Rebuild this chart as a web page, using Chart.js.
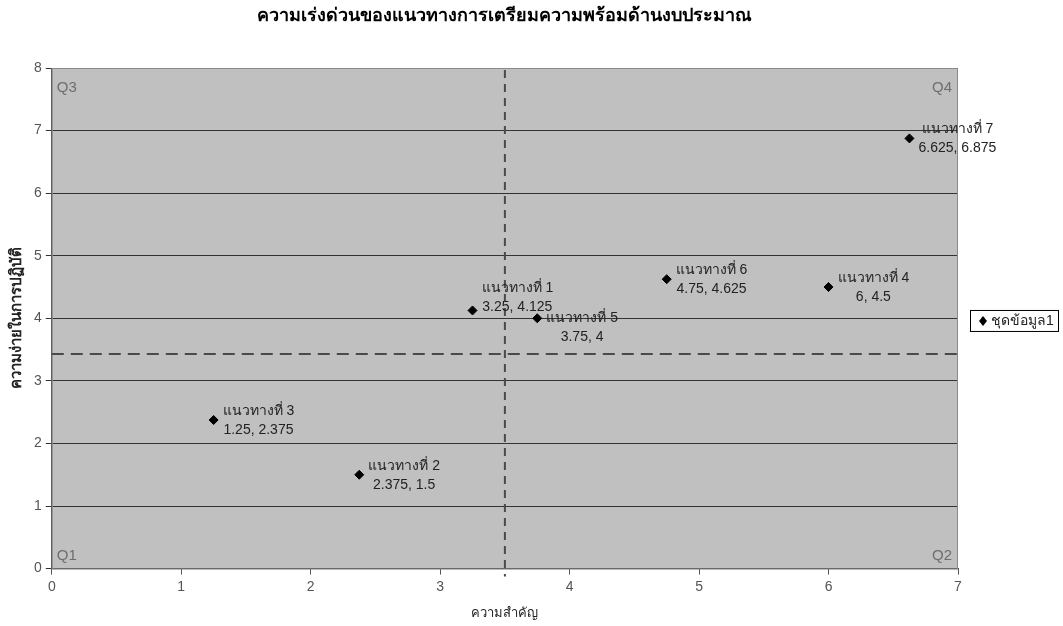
<!DOCTYPE html>
<html>
<head>
<meta charset="utf-8">
<script src="https://cdn.jsdelivr.net/npm/chart.js@4"></script>
<style>
  html, body { margin: 0; padding: 0; background: #fff; }
  #wrap { width: 1063px; height: 626px; }
</style>
</head>
<body>
<div id="wrap"><canvas id="chart"></canvas></div>
<script>
const chartTitle = 'ความเร่งด่วนของแนวทางการเตรียมความพร้อมด้านงบประมาณ';
const xTitle = 'ความสำคัญ';
const yTitle = 'ความง่ายในการปฏิบัติ';
const seriesName = 'ชุดข้อมูล1';

const pointNames = ['แนวทางที่ 1', 'แนวทางที่ 2', 'แนวทางที่ 3', 'แนวทางที่ 4', 'แนวทางที่ 5', 'แนวทางที่ 6', 'แนวทางที่ 7'];
const xValues = [3.25, 2.375, 1.25, 6, 3.75, 4.75, 6.625];
const yValues = [4.125, 1.5, 2.375, 4.5, 4, 4.625, 6.875];
const xLabels = ['3.25', '2.375', '1.25', '6', '3.75', '4.75', '6.625'];
const yLabels = ['4.125', '1.5', '2.375', '4.5', '4', '4.625', '6.875'];

const quadrantNames = ['Q1', 'Q2', 'Q3', 'Q4'];
const xSplit = 3.5;
const ySplit = 3.43;

const FONT = '"Liberation Sans", Arial, sans-serif';

// label nudges (px) so labels sit like the original
const labelShift = [[0, -13], [0, 0], [0, 0], [0, 0], [0, 9], [0, 0], [0, 0]];

const points = xValues.map((x, i) => ({ x: x, y: yValues[i] }));

const decor = {
    id: 'decor',
    beforeDraw(chart) {
        const { ctx, chartArea: a } = chart;
        ctx.save();
        ctx.fillStyle = '#c0c0c0';
        ctx.fillRect(a.left, a.top, a.right - a.left, a.bottom - a.top);
        // title, centred over the plot area
        ctx.fillStyle = '#000';
        ctx.font = 'bold 18px ' + FONT;
        ctx.textAlign = 'center';
        ctx.textBaseline = 'middle';
        ctx.fillText(chartTitle, (a.left + a.right) / 2, 16);
        ctx.restore();
    },
    afterDatasetsDraw(chart) {
        const { ctx, chartArea: a, scales } = chart;
        const xs = scales.x, ys = scales.y;
        ctx.save();
        // plot border
        ctx.strokeStyle = '#8a8a8a';
        ctx.lineWidth = 1;
        ctx.strokeRect(a.left + 0.5, a.top + 0.5, a.right - a.left - 1, a.bottom - a.top);

        // split lines
        ctx.strokeStyle = '#4a4a4a';
        ctx.lineWidth = 2;
        ctx.setLineDash([12, 7]);
        const hy = ys.getPixelForValue(ySplit);
        ctx.beginPath();
        ctx.moveTo(a.left, hy);
        ctx.lineTo(a.right + 3, hy);
        ctx.stroke();
        ctx.setLineDash([8, 6]);
        const vx = xs.getPixelForValue(xSplit);
        ctx.beginPath();
        ctx.moveTo(vx, a.top + 2);
        ctx.lineTo(vx, a.bottom + 8);
        ctx.stroke();
        ctx.setLineDash([]);

        // quadrant names
        ctx.fillStyle = '#6e6e6e';
        ctx.font = '15px ' + FONT;
        ctx.textBaseline = 'middle';
        ctx.textAlign = 'left';
        ctx.fillText(quadrantNames[0], a.left + 5, a.bottom - 13);
        ctx.fillText(quadrantNames[2], a.left + 5, a.top + 20);
        ctx.textAlign = 'right';
        ctx.fillText(quadrantNames[1], a.right - 6, a.bottom - 13);
        ctx.fillText(quadrantNames[3], a.right - 6, a.top + 20);

        // point labels
        ctx.font = '14px ' + FONT;
        ctx.fillStyle = '#222';
        ctx.textAlign = 'center';
        points.forEach((p, i) => {
            const px = xs.getPixelForValue(p.x) + labelShift[i][0];
            const py = ys.getPixelForValue(p.y) + labelShift[i][1];
            const l1 = pointNames[i];
            const l2 = xLabels[i] + ', ' + yLabels[i];
            const w = Math.max(ctx.measureText(l1).width, ctx.measureText(l2).width);
            const cx = px + 9 + w / 2;
            ctx.fillText(l1, cx, py - 9);
            ctx.fillText(l2, cx, py + 10);
        });

        // legend
        const lx = a.right + 12, ly = hy - 44;
        ctx.font = '14px ' + FONT;
        ctx.fillStyle = '#fff';
        ctx.fillRect(lx, ly, 88, 21);
        ctx.strokeStyle = '#000';
        ctx.lineWidth = 1;
        ctx.strokeRect(lx + 0.5, ly + 0.5, 88, 21);
        ctx.fillStyle = '#000';
        ctx.beginPath();
        ctx.moveTo(lx + 13, ly + 6);
        ctx.lineTo(lx + 17, ly + 11);
        ctx.lineTo(lx + 13, ly + 16);
        ctx.lineTo(lx + 9, ly + 11);
        ctx.closePath();
        ctx.fill();
        ctx.textAlign = 'left';
        ctx.fillStyle = '#222';
        ctx.fillText(seriesName, lx + 21, ly + 11);
        ctx.restore();
    }
};

new Chart(document.getElementById('chart'), {
    type: 'scatter',
    data: {
        datasets: [{
            label: seriesName,
            data: points,
            backgroundColor: '#000',
            borderColor: '#000',
            pointStyle: 'rectRot',
            pointRadius: 4.5,
            pointHoverRadius: 4.5
        }]
    },
    options: {
        responsive: true,
        maintainAspectRatio: false,
        animation: false,
        layout: { padding: { top: 68, right: 105, left: 4, bottom: 1 } },
        plugins: {
            legend: { display: false },
            tooltip: { enabled: false },
            title: { display: false }
        },
        scales: {
            x: {
                type: 'linear',
                min: 0,
                max: 7,
                ticks: { stepSize: 1, color: '#555', font: { family: FONT, size: 14 }, padding: 4 },
                grid: { drawOnChartArea: false, color: '#555', tickLength: 6 },
                border: { color: '#555' },
                title: { display: true, text: xTitle, color: '#222', font: { family: FONT, size: 13 }, padding: { top: 6 } }
            },
            y: {
                type: 'linear',
                min: 0,
                max: 8,
                ticks: { stepSize: 1, color: '#555', font: { family: FONT, size: 14 }, padding: 4 },
                grid: { color: '#333', tickLength: 6 },
                border: { color: '#555' },
                title: { display: true, text: yTitle, color: '#222', font: { family: FONT, size: 15, weight: 'bold' }, padding: { bottom: 4 } }
            }
        }
    },
    plugins: [decor]
});
</script>
</body>
</html>
